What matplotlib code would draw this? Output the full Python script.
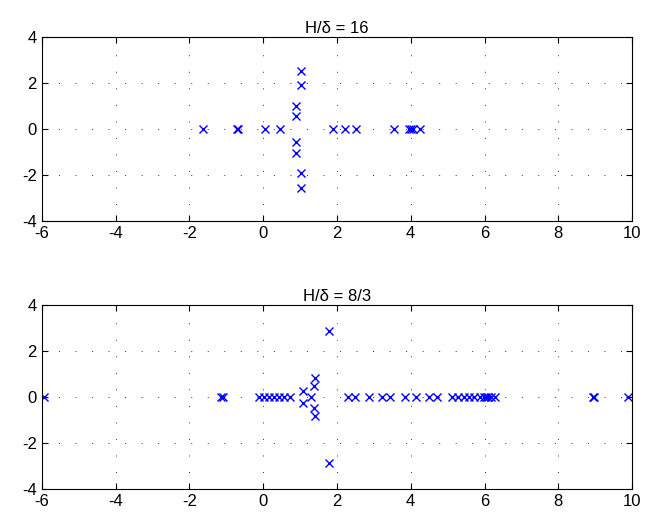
import matplotlib
matplotlib.use("Agg")
import matplotlib.pyplot as plt

# roots for H/delta = 16
top_re_x = [-1.62, -0.72, -0.68, 0.05, 0.45, 1.88, 2.23, 2.51, 3.55, 3.95, 4.0, 4.05, 4.25]
top_re_y = [0.0] * len(top_re_x)
top_cx_x = [0.90, 0.90, 0.90, 0.90, 1.02, 1.02, 1.02, 1.02]
top_cx_y = [0.57, -0.57, 1.02, -1.02, 1.91, -1.91, 2.55, -2.55]

# roots for H/delta = 8/3
bot_re_x = [-5.95, -1.14, -1.08, -0.1, 0.03, 0.15, 0.3, 0.44, 0.56, 0.72,
            2.29, 2.49, 2.86, 3.23, 3.44, 3.84, 4.14, 4.50, 4.72,
            5.12, 5.28, 5.45, 5.59, 5.72, 5.87, 5.98, 6.04, 6.09, 6.17, 6.29,
            8.93, 8.97, 9.90]
bot_re_y = [0.0] * len(bot_re_x)
bot_cx_x = [1.30, 1.08, 1.08, 1.37, 1.37, 1.41, 1.41, 1.78, 1.78]
bot_cx_y = [0.0, 0.27, -0.27, 0.47, -0.47, 0.82, -0.82, 2.88, -2.88]

titles = ["H/\u03b4 = 16", "H/\u03b4 = 8/3"]
xticks = [-6, -4, -2, 0, 2, 4, 6, 8, 10]
yticks = [-4, -2, 0, 2, 4]

plt.rcParams["font.family"] = ["Liberation Sans", "DejaVu Sans"]
plt.rcParams["axes.unicode_minus"] = False

fig = plt.figure(figsize=(6.53, 5.23), dpi=100)
ax1 = fig.add_axes([0.064, 0.577, 0.904, 0.352])
ax2 = fig.add_axes([0.064, 0.065, 0.904, 0.352])

data = [
    (top_re_x + top_cx_x, top_re_y + top_cx_y),
    (bot_re_x + bot_cx_x, bot_re_y + bot_cx_y),
]

for ax, (xs, ys), title in zip([ax1, ax2], data, titles):
    ax.plot(xs, ys, "x", color="blue", markersize=6, markeredgewidth=1.0)
    ax.set_xlim(-6, 10)
    ax.set_ylim(-4, 4)
    ax.set_xticks(xticks)
    ax.set_yticks(yticks)
    ax.grid(True, color="#333333", linestyle=(0, (1, 16)), linewidth=0.7)
    ax.tick_params(direction="in", top=True, right=True, labelsize=12, length=4)
    for sp in ax.spines.values():
        sp.set_linewidth(0.8)
    ax.set_title(title, fontsize=12, pad=3)

fig.savefig("out.png", dpi=100)
